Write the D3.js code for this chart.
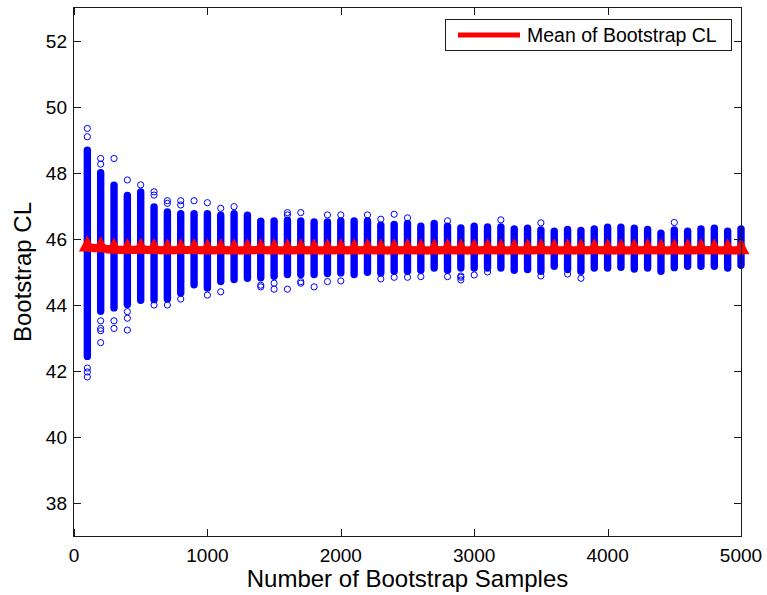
<!DOCTYPE html>
<html>
<head>
<meta charset="utf-8">
<script src="https://cdn.jsdelivr.net/npm/d3@7"></script>
<style>
  body { margin: 0; background: #fff; }
  text { font-family: Arial, "Liberation Sans", sans-serif; fill: #000; }
</style>
</head>
<body>
<svg id="chart" width="767" height="595"></svg>
<script>
// number of bootstrap samples per column
const sampleSizes = [100, 200, 300, 400, 500, 600, 700, 800, 900, 1000,
  1100, 1200, 1300, 1400, 1500, 1600, 1700, 1800, 1900, 2000,
  2100, 2200, 2300, 2400, 2500, 2600, 2700, 2800, 2900, 3000,
  3100, 3200, 3300, 3400, 3500, 3600, 3700, 3800, 3900, 4000,
  4100, 4200, 4300, 4400, 4500, 4600, 4700, 4800, 4900, 5000];

// top / bottom of the dense run of circles in each column
const bandHigh = [48.8, 48.12, 47.74, 47.43, 47.54, 47.08, 46.93, 46.88, 46.88, 46.88,
  46.83, 46.88, 46.83, 46.65, 46.66, 46.68, 46.66, 46.63, 46.63, 46.66,
  46.66, 46.66, 46.53, 46.55, 46.58, 46.5, 46.58, 46.5, 46.45, 46.5,
  46.48, 46.48, 46.42, 46.44, 46.39, 46.35, 46.4, 46.37, 46.42, 46.47,
  46.47, 46.44, 46.4, 46.29, 46.39, 46.35, 46.42, 46.44, 46.35, 46.42];
const bandLow = [42.33, 43.7, 43.8, 43.9, 44.03, 44.05, 44.07, 44.25, 44.5, 44.4,
  44.6, 44.66, 44.7, 44.71, 44.76, 44.81, 44.81, 44.81, 44.84, 44.86,
  44.81, 44.88, 44.86, 44.91, 44.91, 44.94, 45.01, 44.94, 45.01, 45.01,
  45.01, 45.01, 44.94, 44.96, 44.91, 45.06, 44.96, 44.91, 45.01, 45.01,
  45.03, 44.98, 45.01, 44.91, 45.02, 45.06, 45.06, 45.06, 45.01, 45.09];

// isolated circles outside the dense runs: [samples, CL]
const outliers = [
  [100, 49.35], [100, 49.1], [100, 42.09], [100, 41.97], [100, 41.82],
  [200, 48.44], [200, 48.27], [200, 43.52], [200, 43.29], [200, 43.22], [200, 42.86],
  [300, 48.44], [300, 43.52], [300, 43.29],
  [400, 47.79], [400, 43.8], [400, 43.6], [400, 43.24],
  [500, 47.64],
  [600, 47.43], [600, 47.33], [600, 44.0],
  [700, 47.16], [700, 47.08], [700, 44.0],
  [800, 47.16], [800, 47.03], [800, 44.18],
  [900, 47.16],
  [1000, 47.1], [1000, 44.3],
  [1100, 46.93], [1100, 44.4],
  [1200, 46.98],
  [1400, 44.6], [1400, 44.55],
  [1500, 44.66], [1500, 44.48],
  [1600, 46.8], [1600, 46.73], [1600, 44.48],
  [1700, 46.8], [1700, 44.71], [1700, 44.66],
  [1800, 44.55],
  [1900, 46.73], [1900, 44.71],
  [2000, 46.73], [2000, 44.73],
  [2200, 46.73],
  [2300, 46.6], [2300, 44.79],
  [2400, 46.75], [2400, 44.84],
  [2500, 46.64], [2500, 44.84],
  [2600, 44.86],
  [2800, 46.55], [2800, 44.86],
  [2900, 44.88], [2900, 44.84], [2900, 44.76],
  [3000, 44.91],
  [3100, 45.0],
  [3200, 46.58],
  [3500, 46.49], [3500, 44.88],
  [3700, 44.94],
  [3800, 44.81],
  [4500, 46.5]
];

// mean of bootstrap CL per column
const means = [45.74, 45.72, 45.68, 45.67, 45.68, 45.67, 45.66, 45.67, 45.67, 45.66,
  45.67, 45.66, 45.66, 45.67, 45.66, 45.66, 45.67, 45.66, 45.66, 45.67,
  45.66, 45.67, 45.66, 45.66, 45.67, 45.66, 45.66, 45.67, 45.66, 45.66,
  45.67, 45.66, 45.66, 45.66, 45.67, 45.66, 45.66, 45.66, 45.67, 45.66,
  45.66, 45.66, 45.67, 45.66, 45.66, 45.66, 45.67, 45.66, 45.66, 45.66];

const xTicks = [0, 1000, 2000, 3000, 4000, 5000];
const yTicks = [38, 40, 42, 44, 46, 48, 50, 52];

const svg = d3.select('#chart');
const box = { left: 74, right: 741, top: 8, bottom: 536 };

const x = d3.scaleLinear().domain([0, 5000]).range([box.left, box.right]);
const y = d3.scaleLinear().domain([37, 53]).range([box.bottom, box.top]);

const blue = '#0000ff';
const red = '#ff0000';
const r = 3.1;
const bandW = 7.4;

const plot = svg.append('g').attr('class', 'plot');

// dense runs of circles
plot.selectAll('rect.band').data(sampleSizes).join('rect').classed('band', true)
  .attr('x', (d) => x(d) - bandW / 2)
  .attr('width', bandW)
  .attr('y', (d, i) => y(bandHigh[i]))
  .attr('height', (d, i) => y(bandLow[i]) - y(bandHigh[i]))
  .attr('rx', bandW / 2)
  .style('fill', blue);

plot.selectAll('circle.pt').data(outliers).join('circle').classed('pt', true)
  .attr('cx', (d) => x(d[0]))
  .attr('cy', (d) => y(d[1]))
  .attr('r', r)
  .style('fill', 'none')
  .style('stroke', blue)
  .style('stroke-width', 1);

// mean line with triangle markers
const meanPts = sampleSizes.map((s, i) => [s, means[i]]);
plot.append('path').datum(meanPts)
  .attr('d', d3.line().x((d) => x(d[0])).y((d) => y(d[1])))
  .style('fill', 'none')
  .style('stroke', red)
  .style('stroke-width', 8);

plot.selectAll('path.tri').data(meanPts).join('path').classed('tri', true)
  .attr('d', (d) => {
    const cx = x(d[0]), cy = y(d[1]);
    return `M${cx},${cy - 12}L${cx + 8.5},${cy + 4}L${cx - 8.5},${cy + 4}Z`;
  })
  .style('fill', red);

// axes box
const axisColor = '#1a1a1a';
svg.append('rect')
  .attr('x', box.left - 0.5).attr('y', box.top - 0.5)
  .attr('width', box.right - box.left + 1).attr('height', box.bottom - box.top + 1)
  .style('fill', 'none').style('stroke', axisColor).style('stroke-width', 1);

const tickLen = 7;
const xt = svg.append('g');
xTicks.forEach((t) => {
  const px = Math.round(x(t)) + 0.5;
  xt.append('line').attr('x1', px).attr('x2', px).attr('y1', box.bottom).attr('y2', box.bottom - tickLen)
    .style('stroke', axisColor);
  xt.append('line').attr('x1', px).attr('x2', px).attr('y1', box.top).attr('y2', box.top + tickLen)
    .style('stroke', axisColor);
  xt.append('text').attr('x', x(t)).attr('y', 562)
    .attr('text-anchor', 'middle').style('font-size', '19px').text(t);
});

const yt = svg.append('g');
yTicks.forEach((t) => {
  const py = Math.round(y(t)) + 0.5;
  yt.append('line').attr('x1', box.left).attr('x2', box.left + tickLen).attr('y1', py).attr('y2', py)
    .style('stroke', axisColor);
  yt.append('line').attr('x1', box.right).attr('x2', box.right - tickLen).attr('y1', py).attr('y2', py)
    .style('stroke', axisColor);
  yt.append('text').attr('x', 67).attr('y', y(t)).attr('dy', '0.36em')
    .attr('text-anchor', 'end').style('font-size', '19px').text(t);
});

// axis labels
svg.append('text').attr('x', (box.left + box.right) / 2).attr('y', 587)
  .attr('text-anchor', 'middle').style('font-size', '24px').text('Number of Bootstrap Samples');
svg.append('text').attr('transform', `translate(31,${(box.top + box.bottom) / 2}) rotate(-90)`)
  .attr('text-anchor', 'middle').style('font-size', '24px').text('Bootstrap CL');

// legend
const legend = svg.append('g');
legend.append('rect').attr('x', 445.5).attr('y', 19.5).attr('width', 286).attr('height', 31)
  .style('fill', '#fff').style('stroke', axisColor).style('stroke-width', 1);
legend.append('line').attr('x1', 458).attr('x2', 520).attr('y1', 35).attr('y2', 35)
  .style('stroke', red).style('stroke-width', 5);
legend.append('text').attr('x', 527).attr('y', 42)
  .style('font-size', '19.5px').text('Mean of Bootstrap CL');
</script>
</body>
</html>
